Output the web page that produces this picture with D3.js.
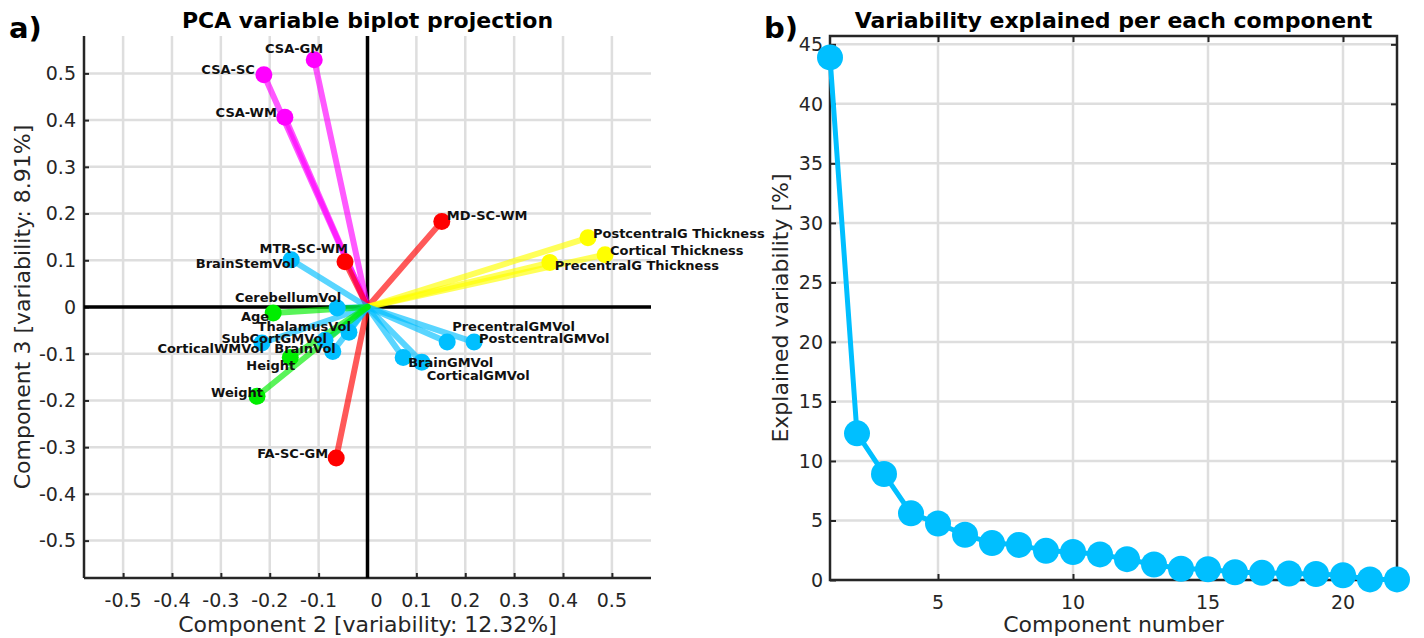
<!DOCTYPE html>
<html><head><meta charset="utf-8">
<script src="https://cdn.jsdelivr.net/npm/d3@7/dist/d3.min.js"></script>
<style>
body{margin:0;background:#fff}
svg{display:block}
text{font-family:"DejaVu Sans",sans-serif;fill:#262626}
</style>
</head><body>
<svg id="chart" width="1424" height="638"></svg>
<script>
// ---------------- DATA ----------------
const varNames = ["CSA-GM","CSA-SC","CSA-WM","MD-SC-WM","MTR-SC-WM","FA-SC-GM",
  "PostcentralG Thickness","Cortical Thickness","PrecentralG Thickness",
  "BrainStemVol","CerebellumVol","ThalamusVol","SubCortGMVol","CorticalWMVol","BrainVol",
  "PrecentralGMVol","PostcentralGMVol","BrainGMVol","CorticalGMVol",
  "Age","Height","Weight"];
const pc2 = [-0.109,-0.212,-0.169,0.152,-0.046,-0.064,
  0.451,0.486,0.373,
  -0.156,-0.062,-0.038,-0.087,-0.216,-0.071,
  0.163,0.218,0.073,0.111,
  -0.193,-0.158,-0.226];
const pc3 = [0.529,0.497,0.406,0.183,0.097,-0.323,
  0.148,0.112,0.095,
  0.101,-0.002,-0.054,-0.071,-0.077,-0.095,
  -0.075,-0.075,-0.108,-0.118,
  -0.013,-0.108,-0.191];
const varGroup = ["csa","csa","csa","dti","dti","dti",
  "thick","thick","thick",
  "vol","vol","vol","vol","vol","vol",
  "vol","vol","vol","vol",
  "demo","demo","demo"];
const biplotTicks = [-0.5,-0.4,-0.3,-0.2,-0.1,0,0.1,0.2,0.3,0.4,0.5];

const componentNumber = [1,2,3,4,5,6,7,8,9,10,11,12,13,14,15,16,17,18,19,20,21,22];
const explainedPct = [43.9,12.32,8.91,5.6,4.75,3.8,3.1,2.95,2.45,2.35,2.15,1.75,1.3,0.95,0.9,0.65,0.6,0.55,0.5,0.4,0.05,0.05];
const screeXTicks = [5,10,15,20];
const screeYTicks = [0,5,10,15,20,25,30,35,40,45];

// ---------------- STYLE / LAYOUT ----------------
const groupColor = {csa:"#ff00ff", dti:"#ff0000", thick:"#ffff00", vol:"#00bfff", demo:"#00ee00"};
// label placement relative to marker: [anchor, dx, dy]
const labelPlace = {
  "CSA-GM":["end",9,-12], "CSA-SC":["end",-9,-5], "CSA-WM":["end",-8,-5],
  "MD-SC-WM":["start",5,-6], "MTR-SC-WM":["end",3,-13], "FA-SC-GM":["end",-8,-5],
  "PostcentralG Thickness":["start",5,-5], "Cortical Thickness":["start",5,-4], "PrecentralG Thickness":["start",5,3],
  "BrainStemVol":["end",4,4], "CerebellumVol":["end",4,-11], "ThalamusVol":["end",2,-6],
  "SubCortGMVol":["end",2,-2], "CorticalWMVol":["end",2,5], "BrainVol":["end",3,-3],
  "PrecentralGMVol":["start",5,-16], "PostcentralGMVol":["start",5,-4], "BrainGMVol":["start",5,5], "CorticalGMVol":["start",5,13],
  "Age":["end",-4,3], "Height":["end",5,8], "Weight":["end",6,-4]
};
const axisCol = "#262626", gridCol = "#dedede";

const svg = d3.select("#chart");
svg.append("rect").attr("width",1424).attr("height",638).attr("fill","#fff");

// ================= PANEL A =================
const A = {l:84, r:651, t:36, b:578};
const xA = d3.scaleLinear().domain([-0.58,0.58]).range([A.l,A.r]);
const yA = d3.scaleLinear().domain([-0.58,0.58]).range([A.b,A.t]);
const gA = svg.append("g");

// grid
gA.selectAll(".gx").data(biplotTicks).join("line")
  .attr("x1",d=>xA(d)).attr("x2",d=>xA(d)).attr("y1",A.t).attr("y2",A.b)
  .attr("stroke",gridCol).attr("stroke-width",2.5);
gA.selectAll(".gy").data(biplotTicks).join("line")
  .attr("y1",d=>yA(d)).attr("y2",d=>yA(d)).attr("x1",A.l).attr("x2",A.r)
  .attr("stroke",gridCol).attr("stroke-width",2.5);

// axes (box off) with inward ticks
const axBottomA = d3.axisTop(xA).tickValues(biplotTicks).tickSize(5).tickFormat("");
const axLeftA = d3.axisRight(yA).tickValues(biplotTicks).tickSize(5).tickFormat("");
gA.append("g").attr("transform",`translate(0,${A.b})`).call(axBottomA)
  .call(g=>{g.select(".domain").attr("stroke",axisCol).attr("stroke-width",2.5).attr("d",`M${A.l},0H${A.r}`);
            g.selectAll(".tick line").attr("stroke",axisCol).attr("stroke-width",2);});
gA.append("g").attr("transform",`translate(${A.l},0)`).call(axLeftA)
  .call(g=>{g.select(".domain").attr("stroke",axisCol).attr("stroke-width",2.5).attr("d",`M0,${A.t}V${A.b}`);
            g.selectAll(".tick line").attr("stroke",axisCol).attr("stroke-width",2);});

// tick labels
const fmtA = d=> d===0 ? "0" : d3.format(".1f")(d).replace("−","-");
gA.selectAll(".xl").data(biplotTicks).join("text")
  .attr("x",d=>xA(d)+(d===0?9:0)).attr("y",A.b+29).attr("text-anchor","middle")
  .attr("font-size",19).text(fmtA);
gA.selectAll(".yl").data(biplotTicks).join("text")
  .attr("x",A.l-8).attr("y",d=>yA(d)).attr("dy","0.36em").attr("text-anchor","end")
  .attr("font-size",19).text(fmtA);

// zero lines
gA.append("line").attr("x1",A.l).attr("x2",A.r).attr("y1",yA(0)).attr("y2",yA(0))
  .attr("stroke","#000").attr("stroke-width",3.5);
gA.append("line").attr("x1",xA(0)).attr("x2",xA(0)).attr("y1",A.t).attr("y2",A.b)
  .attr("stroke","#000").attr("stroke-width",3.5);

// vectors
const vars = varNames.map((n,i)=>({name:n,x:pc2[i],y:pc3[i],g:varGroup[i]}));
gA.selectAll(".vec").data(vars).join("line")
  .attr("x1",xA(0)).attr("y1",yA(0)).attr("x2",d=>xA(d.x)).attr("y2",d=>yA(d.y))
  .attr("stroke",d=>groupColor[d.g]).attr("stroke-opacity",0.65).attr("stroke-width",6)
  .attr("stroke-linecap","round");
gA.selectAll(".dot").data(vars).join("circle")
  .attr("cx",d=>xA(d.x)).attr("cy",d=>yA(d.y)).attr("r",8.5)
  .attr("fill",d=>groupColor[d.g]);
gA.selectAll(".lab").data(vars).join("text")
  .attr("x",d=>xA(d.x)+labelPlace[d.name][1]).attr("y",d=>yA(d.y)+labelPlace[d.name][2])
  .attr("dy","0.36em").attr("text-anchor",d=>labelPlace[d.name][0])
  .attr("font-size",13).attr("font-weight","bold").style("fill","#111").text(d=>d.name);

// titles / labels
svg.append("text").attr("x",(A.l+A.r)/2).attr("y",28).attr("text-anchor","middle")
  .attr("font-size",22).attr("font-weight","bold").style("fill","#000").text("PCA variable biplot projection");
svg.append("text").attr("x",9).attr("y",38).attr("font-size",29).attr("font-weight","bold")
  .style("fill","#000").text("a)");
svg.append("text").attr("x",(A.l+A.r)/2).attr("y",632).attr("text-anchor","middle")
  .attr("font-size",22).text("Component 2 [variability: 12.32%]");
svg.append("text").attr("transform",`translate(30,${(A.t+A.b)/2}) rotate(-90)`).attr("text-anchor","middle")
  .attr("font-size",22).text("Component 3 [variability: 8.91%]");

// ================= PANEL B =================
const B = {l:830, r:1397, t:36, b:580};
const xB = d3.scaleLinear().domain([1,22]).range([B.l,B.r]);
const yB = d3.scaleLinear().domain([0,45.7]).range([B.b,B.t]);
const gB = svg.append("g");

gB.selectAll(".gx").data(screeXTicks).join("line")
  .attr("x1",d=>xB(d)).attr("x2",d=>xB(d)).attr("y1",B.t).attr("y2",B.b)
  .attr("stroke",gridCol).attr("stroke-width",2.5);
gB.selectAll(".gy").data(screeYTicks).join("line")
  .attr("y1",d=>yB(d)).attr("y2",d=>yB(d)).attr("x1",B.l).attr("x2",B.r)
  .attr("stroke",gridCol).attr("stroke-width",2.5);

function styleAx(g){g.select(".domain").remove(); g.selectAll(".tick line").attr("stroke",axisCol).attr("stroke-width",2);}
gB.append("g").attr("transform",`translate(0,${B.b})`).call(d3.axisTop(xB).tickValues(screeXTicks).tickSize(6).tickFormat("")).call(styleAx);
gB.append("g").attr("transform",`translate(0,${B.t})`).call(d3.axisBottom(xB).tickValues(screeXTicks).tickSize(6).tickFormat("")).call(styleAx);
gB.append("g").attr("transform",`translate(${B.l},0)`).call(d3.axisRight(yB).tickValues(screeYTicks).tickSize(6).tickFormat("")).call(styleAx);
gB.append("g").attr("transform",`translate(${B.r},0)`).call(d3.axisLeft(yB).tickValues(screeYTicks).tickSize(6).tickFormat("")).call(styleAx);
gB.append("rect").attr("x",B.l).attr("y",B.t).attr("width",B.r-B.l).attr("height",B.b-B.t)
  .attr("fill","none").attr("stroke",axisCol).attr("stroke-width",2.5);

gB.selectAll(".xl").data(screeXTicks).join("text")
  .attr("x",d=>xB(d)).attr("y",B.b+29).attr("text-anchor","middle").attr("font-size",19).text(d=>d);
gB.selectAll(".yl").data(screeYTicks).join("text")
  .attr("x",B.l-7).attr("y",d=>yB(d)).attr("dy","0.36em").attr("text-anchor","end").attr("font-size",19).text(d=>d);

const scree = componentNumber.map((c,i)=>({c, v:explainedPct[i]}));
gB.append("path").datum(scree)
  .attr("d",d3.line().x(d=>xB(d.c)).y(d=>yB(d.v)))
  .attr("fill","none").attr("stroke","#00bfff").attr("stroke-width",5).attr("stroke-linejoin","round");
gB.selectAll(".pt").data(scree).join("circle")
  .attr("cx",d=>xB(d.c)).attr("cy",d=>yB(d.v)).attr("r",13).attr("fill","#00bfff");

svg.append("text").attr("x",(B.l+B.r)/2).attr("y",28).attr("text-anchor","middle")
  .attr("font-size",22).attr("font-weight","bold").style("fill","#000").text("Variability explained per each component");
svg.append("text").attr("x",764).attr("y",38).attr("font-size",29).attr("font-weight","bold")
  .style("fill","#000").text("b)");
svg.append("text").attr("x",(B.l+B.r)/2).attr("y",632).attr("text-anchor","middle")
  .attr("font-size",22).text("Component number");
svg.append("text").attr("transform",`translate(788,${(B.t+B.b)/2}) rotate(-90)`).attr("text-anchor","middle")
  .attr("font-size",22).text("Explained variability [%]");
</script>
</body></html>
